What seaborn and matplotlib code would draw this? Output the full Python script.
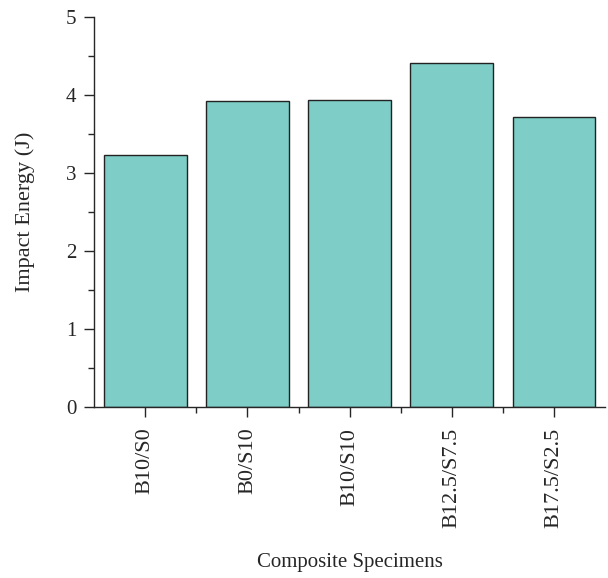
import matplotlib
matplotlib.use("Agg")
import matplotlib.pyplot as plt
import seaborn as sns
import pandas as pd
from matplotlib.ticker import MultipleLocator, FixedLocator

specimens = ['B10/S0', 'B0/S10', 'B10/S10', 'B12.5/S7.5', 'B17.5/S2.5']
impact_energy = [3.23, 3.92, 3.93, 4.41, 3.71]

df = pd.DataFrame({'Specimen': specimens, 'Energy': impact_energy})

sns.set_style('ticks')
plt.rcParams['font.family'] = ['Liberation Serif', 'DejaVu Serif']

fig = plt.figure(figsize=(6.08, 5.78), dpi=100)
ax = fig.add_axes([0.155, 0.296, 0.84, 0.675])

sns.barplot(data=df, x='Specimen', y='Energy', color='#7ECDC6', saturation=1,
            edgecolor='#222222', linewidth=1.0, width=0.81, ax=ax)

ax.set_xlim(-0.5, 4.5)
ax.set_ylim(0, 5)
ax.yaxis.set_major_locator(MultipleLocator(1))
ax.yaxis.set_minor_locator(MultipleLocator(0.5))
ax.xaxis.set_minor_locator(FixedLocator([0.5, 1.5, 2.5, 3.5]))
ax.tick_params(axis='both', which='major', direction='out', length=7, width=1)
ax.tick_params(axis='both', which='minor', direction='out', length=4, width=1)
ax.tick_params(axis='y', labelsize=15, pad=6)
ax.tick_params(axis='x', labelrotation=90, labelsize=16, pad=8)
for s in ['left', 'bottom']:
    ax.spines[s].set_linewidth(1)
sns.despine(ax=ax)

ax.set_xlabel('Composite Specimens', fontsize=15)
ax.xaxis.set_label_coords(0.5, -0.375)
ax.set_ylabel('Impact Energy (J)', fontsize=16, labelpad=22)

fig.savefig('out.png', dpi=100)
